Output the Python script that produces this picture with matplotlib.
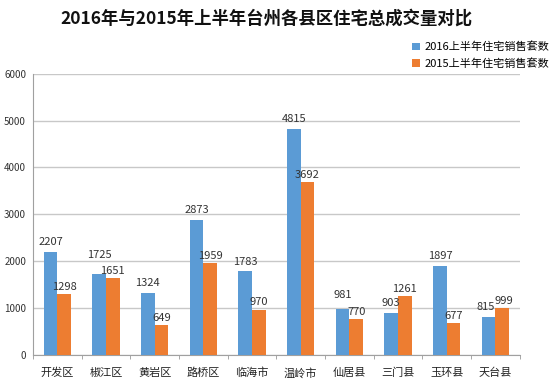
import numpy as np
import matplotlib.pyplot as plt

plt.rcParams['font.family'] = ['Noto Sans CJK SC', 'DejaVu Sans']

districts = ["开发区", "椒江区", "黄岩区", "路桥区", "临海市", "温岭市", "仙居县", "三门县", "玉环县", "天台县"]
sales_2016 = [2207, 1725, 1324, 2873, 1783, 4815, 981, 903, 1897, 815]
sales_2015 = [1298, 1651, 649, 1959, 970, 3692, 770, 1261, 677, 999]
series_names = ["2016上半年住宅销售套数", "2015上半年住宅销售套数"]
y_ticks = [0, 1000, 2000, 3000, 4000, 5000, 6000]

fig = plt.figure(figsize=(5.5, 3.88), dpi=100)
ax = fig.add_axes([0.06, 0.085, 0.885, 0.725])

x = np.arange(len(districts))
w = 0.28
b1 = ax.bar(x - w / 2, sales_2016, w, color="#5B9BD5", label=series_names[0], zorder=3)
b2 = ax.bar(x + w / 2, sales_2015, w, color="#ED7D31", label=series_names[1], zorder=3)

# label nudges (points) so neighbouring labels do not collide
nudge_2016 = {1: (0, 7), 6: (0, 3), 9: (-2, 0)}
nudge_2015 = {9: (1.5, 0)}

for i, rect in enumerate(b1):
    h = rect.get_height()
    dx, dy = nudge_2016.get(i, (0, 0))
    ax.annotate(str(int(h)), (rect.get_x() + rect.get_width() / 2, h),
                xytext=(dx, 3.5 + dy), textcoords="offset points",
                ha="center", va="bottom", fontsize=8, color="#333333")
for i, rect in enumerate(b2):
    h = rect.get_height()
    dx, dy = nudge_2015.get(i, (0, 0))
    ax.annotate(str(int(h)), (rect.get_x() + rect.get_width() / 2, h),
                xytext=(dx, 1.5 + dy), textcoords="offset points",
                ha="center", va="bottom", fontsize=8, color="#333333")

ax.set_xlim(-0.5, len(districts) - 0.5)
ax.set_ylim(0, 6000)
ax.set_yticks(y_ticks)
ax.tick_params(axis="y", length=0, labelsize=7, labelcolor="#333333", pad=5)
ax.set_xticks(x)
ax.set_xticklabels(districts, fontsize=8, color="#222222")
ax.tick_params(axis="x", length=0, pad=9)
# small ticks at category boundaries
ax.set_xticks(np.arange(-0.5, len(districts) + 0.5, 1), minor=True)
ax.tick_params(axis="x", which="minor", length=3, color="#999999")

ax.grid(axis="y", color="#c8c8c8", linewidth=1, zorder=0)
for s in ("top", "right"):
    ax.spines[s].set_visible(False)
ax.spines["left"].set_color("#a0a0a0")
ax.spines["bottom"].set_color("#a0a0a0")

fig.text(0.485, 0.953, "2016年与2015年上半年台州各县区住宅总成交量对比",
         ha="center", va="center", fontsize=12.5, fontweight="bold", color="#111111")

ax.legend(loc="upper right", bbox_to_anchor=(1.07, 1.13), frameon=False,
          fontsize=8, handlelength=0.7, handleheight=0.7, handletextpad=0.4,
          labelspacing=0.5, borderaxespad=0)

fig.savefig("out.png", dpi=100)
